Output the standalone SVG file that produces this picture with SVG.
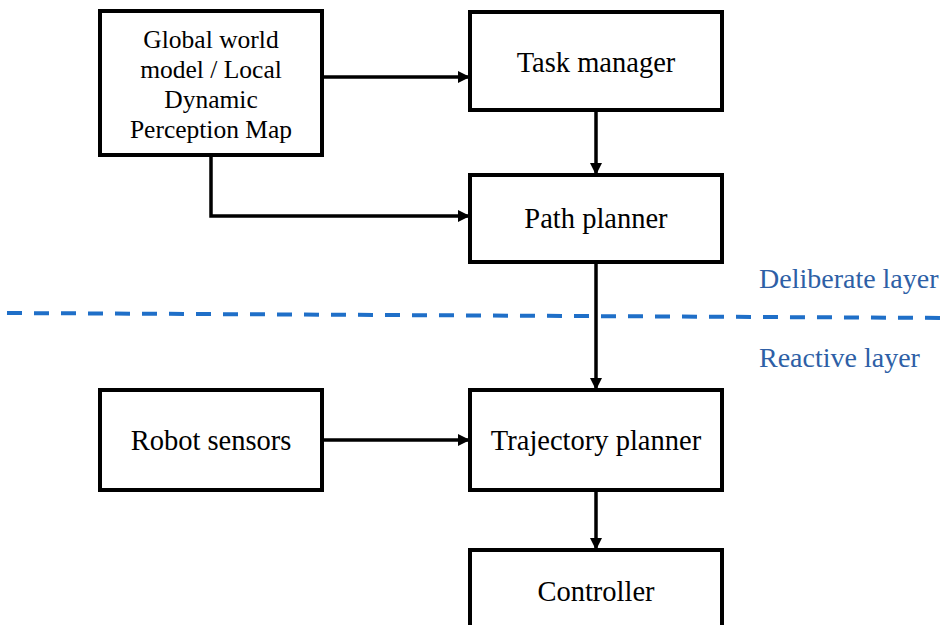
<svg xmlns="http://www.w3.org/2000/svg" width="950" height="625" viewBox="0 0 950 625">
<style>
.box{fill:#fff;stroke:#000;stroke-width:4}
.t{font-size:28.5px;fill:#000;text-anchor:middle}
.t2{font-size:25.5px;fill:#000;text-anchor:middle}
.lay{font-size:28px;fill:#2e5fa6}
.c{fill:none;stroke:#000;stroke-width:3.5}
</style>
<defs>
<marker id="ah" markerWidth="12" markerHeight="12" refX="12" refY="6" orient="auto" markerUnits="userSpaceOnUse">
<path d="M0,0 L12,6 L0,12 z" fill="#000"/>
</marker>
</defs>
<rect width="950" height="625" fill="#fff"/>
<line x1="7" y1="313" x2="950" y2="318" stroke="#1f6fc8" stroke-width="4" stroke-dasharray="15,12"/>
<g font-family="'Liberation Serif', 'Times New Roman', 'DejaVu Serif', serif">
<text class="lay" x="759" y="288">Deliberate layer</text>
<text class="lay" x="759" y="367">Reactive layer</text>
<g id="connectors">
<line class="c" x1="322" y1="77" x2="470" y2="77" marker-end="url(#ah)"/>
<line class="c" x1="596" y1="110" x2="596" y2="175" marker-end="url(#ah)"/>
<polyline class="c" points="211,155 211,216 470,216" marker-end="url(#ah)"/>
<line class="c" x1="596" y1="262" x2="596" y2="390" marker-end="url(#ah)"/>
<line class="c" x1="322" y1="440" x2="470" y2="440" marker-end="url(#ah)"/>
<line class="c" x1="596" y1="490" x2="596" y2="550" marker-end="url(#ah)"/>
</g>
<g id="world">
<rect class="box" x="100" y="11" width="222" height="144"/>
<text class="t2" x="211" y="48">Global world</text>
<text class="t2" x="211" y="78">model / Local</text>
<text class="t2" x="211" y="108">Dynamic</text>
<text class="t2" x="211" y="138">Perception Map</text>
</g>
<g id="task">
<rect class="box" x="470" y="12" width="252" height="98"/>
<text class="t" x="596" y="72">Task manager</text>
</g>
<g id="path">
<rect class="box" x="470" y="175" width="252" height="87"/>
<text class="t" x="596" y="228">Path planner</text>
</g>
<g id="sensors">
<rect class="box" x="100" y="390" width="222" height="100"/>
<text class="t" x="211" y="450">Robot sensors</text>
</g>
<g id="traj">
<rect class="box" x="470" y="390" width="252" height="100"/>
<text class="t" x="596" y="450">Trajectory planner</text>
</g>
<g id="ctrl">
<rect class="box" x="470" y="550" width="252" height="100"/>
<text class="t" x="596" y="601">Controller</text>
</g>
</g>
</svg>
